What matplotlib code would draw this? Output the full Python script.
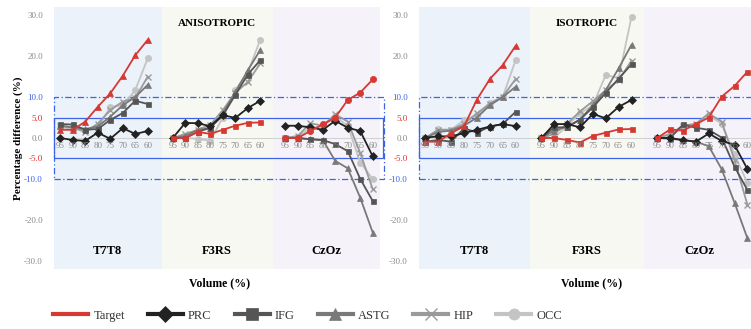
import matplotlib.pyplot as plt
from matplotlib.lines import Line2D
from matplotlib.patches import Rectangle

plt.rcParams['font.family'] = ['Liberation Serif', 'DejaVu Serif']

volumes = [95, 90, 85, 80, 75, 70, 65, 60]
regions = ["T7T8", "F3RS", "CzOz"]
series = ["Target", "PRC", "IFG", "ASTG", "HIP", "OCC"]

# anisotropic: one list per region (T7T8, F3RS, CzOz)
aniso_target = [[2.0, 2.0, 4.0, 7.6, 10.9, 15.2, 20.2, 24.0],
                [0.0, 0.0, 1.5, 1.0, 2.0, 3.0, 3.7, 3.8],
                [0.0, 0.0, 1.7, 3.3, 5.0, 9.3, 11.1, 14.3]]
aniso_prc = [[0.0, -0.5, -0.7, 1.3, -0.2, 2.4, 1.0, 1.7],
             [0.0, 3.7, 3.6, 2.9, 5.6, 4.9, 7.3, 9.1],
             [3.0, 3.0, 2.6, 2.0, 4.2, 2.5, 1.7, -4.5]]
aniso_ifg = [[3.4, 3.3, 2.0, 2.2, 4.4, 6.1, 9.1, 8.3],
             [0.0, 0.0, 1.5, 2.5, 5.5, 10.5, 15.5, 19.0],
             [0.0, 0.0, -0.3, -0.5, -1.5, -3.2, -10.0, -15.4]]
aniso_astg = [[3.0, 2.6, 2.2, 2.8, 5.2, 8.0, 10.0, 13.0],
              [0.0, 0.5, 2.0, 2.4, 6.0, 11.2, 16.5, 21.5],
              [0.0, 0.0, -0.3, -0.5, -5.6, -7.4, -14.6, -23.1]]
aniso_hip = [[3.0, 2.5, 1.5, 3.5, 6.8, 8.9, 9.8, 15.0],
             [0.0, 1.0, 2.0, 3.2, 6.8, 11.0, 13.7, 18.2],
             [0.0, 0.5, 3.6, 3.0, 5.8, 4.0, -3.7, -12.5]]
aniso_occ = [[2.7, 2.2, 2.0, 2.4, 7.6, 8.0, 11.7, 19.5],
             [0.0, 0.0, -0.2, -0.7, 5.0, 11.7, 16.0, 24.0],
             [0.0, 0.3, 2.5, 2.8, 5.2, 3.0, -6.0, -10.0]]

# isotropic
iso_target = [[-0.9, -0.9, 1.2, 2.9, 9.4, 14.4, 17.8, 22.5],
              [0.0, 0.0, -0.5, -1.1, 0.5, 1.3, 2.1, 2.2],
              [0.0, 2.1, 1.8, 3.4, 5.0, 10.1, 12.7, 16.2]]
iso_prc = [[0.1, 0.4, 0.4, 1.2, 2.0, 2.8, 3.4, 2.9],
           [0.0, 3.4, 3.4, 2.6, 5.9, 4.8, 7.6, 9.3],
           [0.0, 0.0, -0.5, -0.9, 1.1, -0.7, -1.7, -7.6]]
iso_ifg = [[-0.9, -0.5, -0.9, 2.4, 1.3, 2.8, 3.4, 6.4],
           [0.0, 2.6, 2.6, 4.5, 7.5, 11.0, 14.5, 18.0],
           [0.0, 0.0, 3.3, 2.5, 2.0, 0.1, -7.0, -12.7]]
iso_astg = [[0.0, 1.5, 1.8, 3.0, 5.0, 8.0, 10.0, 12.5],
            [0.0, 1.8, 2.8, 4.5, 8.0, 11.7, 17.0, 22.8],
            [0.0, -0.2, -0.5, -0.9, -2.0, -7.6, -15.8, -24.5]]
iso_hip = [[0.0, 2.0, 2.0, 3.5, 6.0, 8.4, 10.1, 14.4],
           [0.0, 1.0, 3.5, 6.5, 9.0, 11.7, 14.1, 18.9],
           [0.0, 1.0, 3.0, 3.5, 6.0, 4.0, -5.4, -16.3]]
iso_occ = [[0.0, 2.1, 2.0, 4.4, 5.6, 8.6, 10.0, 19.0],
           [0.0, 0.0, 3.0, 6.0, 8.0, 15.4, 14.6, 29.6],
           [0.0, 0.5, 2.5, 3.0, 5.5, 3.5, -4.0, -11.0]]

yticks = [-30, -20, -10, -5, 0, 5, 10, 20, 30]

colors = {"Target": "#d63832", "PRC": "#222222", "IFG": "#555555",
          "ASTG": "#797979", "HIP": "#9a9a9a", "OCC": "#c4c4c4"}
markers = {"PRC": "D", "IFG": "s", "ASTG": "^", "HIP": "x", "OCC": "o"}
shade = ["#ebf2fa", "#f6f8f1", "#f5f3f9"]
bounds = [(-0.5, 8.1), (8.1, 17.0), (17.0, 25.6)]
blue = "#3d63ea"

fig = plt.figure(figsize=(7.51, 3.29), dpi=100)
ax1 = fig.add_axes([54 / 751, 60 / 329, 330 / 751, 262 / 329])
ax2 = fig.add_axes([419 / 751, 60 / 329, 340 / 751, 262 / 329])


def draw_panel(ax, title, data, target_markers):
    for (x0, x1), c in zip(bounds, shade):
        ax.axvspan(x0, x1, color=c, lw=0, zorder=0)
    ax.axhline(0, color="#cfcfcf", lw=0.7, zorder=1)
    # threshold boxes
    ax.add_patch(Rectangle((-0.5, -5), 26.3, 10, fill=False, ec=blue,
                           lw=0.9, zorder=2, clip_on=False))
    ax.add_patch(Rectangle((-0.5, -10), 26.4, 20, fill=False, ec=blue,
                           lw=0.9, ls=(0, (5, 2, 1, 2)), zorder=2, clip_on=False))
    for k, reg in enumerate(regions):
        xs = [9 * k + i for i in range(len(volumes))]
        for name in ["OCC", "HIP", "ASTG", "IFG", "PRC", "Target"]:
            m = target_markers[k] if name == "Target" else markers[name]
            ms = 4.5 if m in ("^", "o", "x") else 3.6
            ax.plot(xs, data[name][k], color=colors[name], lw=1.3, marker=m,
                    ms=ms, mew=1.0 if m == "x" else 0.5, zorder=3)
        for x, v in zip(xs, volumes):
            ax.text(x, -2.0, str(v), ha="center", va="center", fontsize=6.5,
                    color="#8a8a8a", zorder=4)
        ax.text((bounds[k][0] + bounds[k][1]) / 2, -27.6, reg, ha="center",
                va="center", fontsize=9, fontweight="bold")
    ax.text(12.5, 28, title, ha="center", va="center", fontsize=8,
            fontweight="bold")
    ax.set_xlim(-0.5, 25.9)
    ax.set_ylim(-32, 32)
    ax.set_xticks([])
    ax.set_yticks(yticks)
    ax.set_yticklabels([f"{t:.1f}" for t in yticks], fontsize=6.5)
    for t, lab in zip(yticks, ax.get_yticklabels()):
        if abs(t) == 10:
            lab.set_color(blue)
        elif abs(t) == 5:
            lab.set_color("#e0302a")
        else:
            lab.set_color("#8a8a8a")
    ax.tick_params(axis="y", length=0, pad=8)
    for s in ax.spines.values():
        s.set_visible(False)


aniso = {"Target": aniso_target, "PRC": aniso_prc, "IFG": aniso_ifg,
         "ASTG": aniso_astg, "HIP": aniso_hip, "OCC": aniso_occ}
iso = {"Target": iso_target, "PRC": iso_prc, "IFG": iso_ifg,
       "ASTG": iso_astg, "HIP": iso_hip, "OCC": iso_occ}

draw_panel(ax1, "ANISOTROPIC", aniso, ["^", "s", "o"])
draw_panel(ax2, "ISOTROPIC", iso, ["^", "s", "s"])

fig.text(18 / 751, 1 - 138 / 329, "Percentage difference (%)", rotation=90,
         ha="center", va="center", fontsize=8, fontweight="bold")
fig.text(220 / 751, 1 - 283 / 329, "Volume (%)", ha="center", va="center",
         fontsize=8.5, fontweight="bold")
fig.text(592 / 751, 1 - 283 / 329, "Volume (%)", ha="center", va="center",
         fontsize=8.5, fontweight="bold")

handles = [Line2D([], [], color=colors["Target"], lw=3)]
for name in series[1:]:
    handles.append(Line2D([], [], color=colors[name], lw=3, marker=markers[name],
                          ms=8, mew=1.0 if name == "HIP" else 0.5))
fig.legend(handles, series, loc="center left", bbox_to_anchor=(42 / 751, 0.04),
           ncol=6, frameon=False, fontsize=9, handlelength=2.8,
           handletextpad=0.4, columnspacing=1.85, labelcolor="#333333")

fig.savefig("out.png", dpi=100)
